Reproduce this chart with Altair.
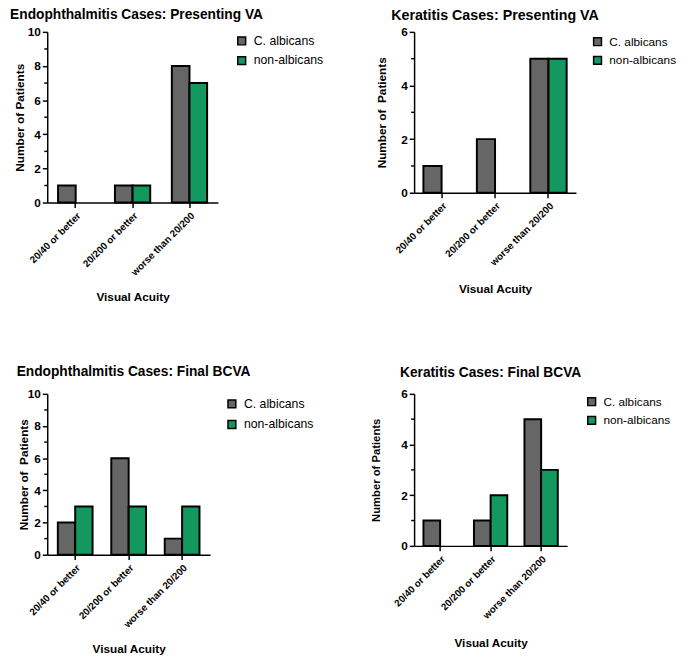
import altair as alt
import pandas as pd

# ---- data ----
categories = ["20/40 or better", "20/200 or better", "worse than 20/200"]
species = ["C. albicans", "non-albicans"]

endo_va_albicans = [1, 1, 8]
endo_va_non = [0, 1, 7]
ker_va_albicans = [1, 2, 5]
ker_va_non = [0, 0, 5]
endo_bcva_albicans = [2, 6, 1]
endo_bcva_non = [3, 3, 3]
ker_bcva_albicans = [1, 1, 5]
ker_bcva_non = [0, 2, 3]

y_ticks_10 = [0, 2, 4, 6, 8, 10]
y_minor_10 = [1, 3, 5, 7, 9]
y_ticks_6 = [0, 2, 4, 6]
y_minor_6 = [1, 3, 5]

GRAY = "#666666"
GREEN = "#13995f"
FONT = "Liberation Sans"


def table(alb, non):
    rows = []
    for c, a, n in zip(categories, alb, non):
        rows.append({"cat": c, "species": species[0], "n": a})
        rows.append({"cat": c, "species": species[1], "n": n})
    return pd.DataFrame(rows)


def panel(title, ytitle, alb, non, ymax, major, minor, W, H, pin, pout, anchor,
          tsize, toffset, tdx, ytx, ytsize, xty, lx, ly, lsize, lrow):
    df = table(alb, non)
    yscale = alt.Scale(domain=[0, ymax], nice=False, zero=True)
    yaxis = alt.Axis(
        values=major, title=ytitle, grid=False,
        labelFont=FONT, labelFontSize=12, labelFontWeight="bold", labelColor="black",
        labelPadding=2, tickSize=5, tickWidth=1.5, tickColor="black",
        domainColor="black", domainWidth=1.5,
        titleFont=FONT, titleFontSize=ytsize, titleFontWeight="bold", titleColor="black",
        titleX=ytx, titleBaseline="middle",
    )
    xaxis = alt.Axis(
        title="Visual Acuity", labelAngle=315, labelAlign="right", labelBaseline="top",
        labelFont=FONT, labelFontSize=10, labelFontWeight="bold", labelColor="black",
        labelPadding=3, tickSize=5, tickWidth=1.5, tickColor="black",
        domainColor="black", domainWidth=1.5, bandPosition=0.5, grid=False,
        titleFont=FONT, titleFontSize=12, titleFontWeight="bold", titleColor="black",
        titleY=xty, titleBaseline="middle",
    )
    L, R, T, B = anchor
    frame = alt.Chart(pd.DataFrame({"a": [0]})).mark_rect(opacity=0).encode(
        x=alt.value(L), x2=alt.value(R), y=alt.value(T), y2=alt.value(B)
    )
    bars = alt.Chart(df).transform_filter("datum.n > 0").mark_bar(
        stroke="black", strokeWidth=2
    ).encode(
        x=alt.X("cat:N", sort=categories, axis=xaxis,
                scale=alt.Scale(domain=categories, paddingInner=pin, paddingOuter=pout)),
        xOffset=alt.XOffset("species:N", sort=species,
                            scale=alt.Scale(domain=species, paddingInner=0, paddingOuter=0)),
        y=alt.Y("n:Q", scale=yscale, axis=yaxis),
        color=alt.Color(
            "species:N",
            scale=alt.Scale(domain=species, range=[GRAY, GREEN]),
            legend=alt.Legend(
                title=None, orient="none", legendX=lx, legendY=ly,
                symbolType="square", symbolSize=64, symbolStrokeColor="black",
                symbolStrokeWidth=1.5, symbolOpacity=1,
                labelFont=FONT, labelFontSize=lsize, labelColor="black",
                labelOffset=6, rowPadding=lrow, padding=0,
            ),
        ),
    )
    minor_df = pd.DataFrame({"n": minor})
    ticks = alt.Chart(minor_df).mark_rule(color="black", strokeWidth=1.5).encode(
        y=alt.Y("n:Q", scale=yscale, axis=yaxis),
        x=alt.value(-3), x2=alt.value(0),
    )
    return alt.layer(frame, bars, ticks).properties(
        width=W, height=H,
        title=alt.Title(
            title, font=FONT, fontSize=tsize, fontWeight="bold", color="black",
            anchor="middle", frame="group", offset=toffset, dx=tdx, baseline="top",
        ),
    )


A = panel("Endophthalmitis Cases: Presenting VA", "Number of Patients",
          endo_va_albicans, endo_va_non,
          10, y_ticks_10, y_minor_10, 174, 174, 0.38, 0.19, (-40, 292, -8, 339),
          14, 2, 4, -28, 12, 96, 192, 3, 12.5, 5)
B = panel("Keratitis Cases: Presenting VA", "Number of\u00a0 Patients",
          ker_va_albicans, ker_va_non,
          6, y_ticks_6, y_minor_6, 165, 164, 0.32, 0.174, (-73, 264, -8, 340),
          14.5, 0.5, 0, -33, 12, 98, 181, 4, 12, 5)
C = panel("Endophthalmitis Cases: Final BCVA", "Number of\u00a0 Patients",
          endo_bcva_albicans, endo_bcva_non,
          10, y_ticks_10, y_minor_10, 166, 164, 0.35, 0.198, (-34, 298, -8, 258),
          14, 7, 5, -24, 12, 96, 182, 4, 12.5, 6)
D = panel("Keratitis Cases: Final BCVA", "Number of Patients",
          ker_bcva_albicans, ker_bcva_non,
          6, y_ticks_6, y_minor_6, 156, 155, 0.34, 0.185, (-76, 261, -8, 258),
          14, 6, 0, -38, 11.5, 99, 175, 2, 12, 5)

chart = alt.concat(A, B, C, D, columns=2, spacing=0, align="each", bounds="full").resolve_scale(
    color="independent", x="independent", y="independent", xOffset="independent"
).resolve_legend(color="independent").properties(
    padding={"left": 0, "top": -6, "right": 0, "bottom": 0}
).configure(font=FONT).configure_view(stroke=None)

chart.save("out.html", embed_options={"renderer": "svg", "actions": False})
